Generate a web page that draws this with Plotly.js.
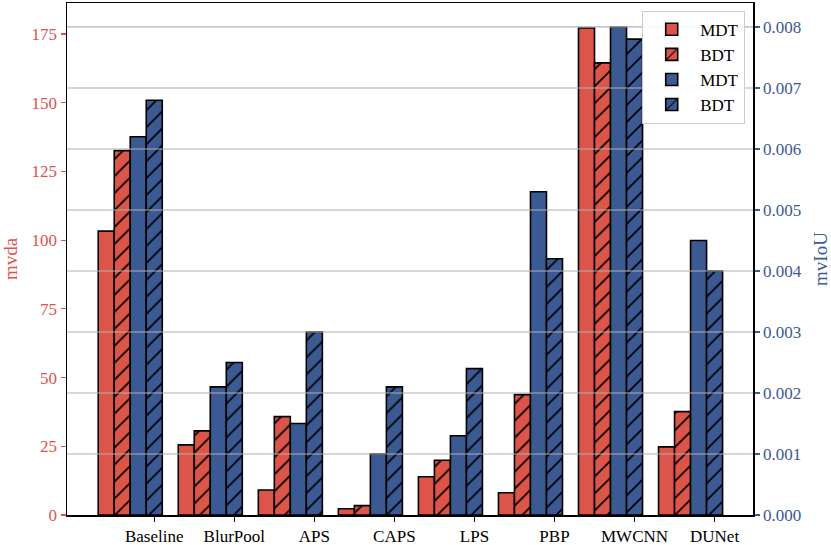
<!DOCTYPE html>
<html>
<head>
<meta charset="utf-8">
<script src="https://cdn.plot.ly/plotly-3.0.1.min.js"></script>
<style>html,body{margin:0;padding:0;background:#fff;}#chart{width:831px;height:545px;}</style>
</head>
<body>
<div id="chart"></div>
<script>
const categories = ["Baseline", "BlurPool", "APS", "CAPS", "LPS", "PBP", "MWCNN", "DUNet"];
const mvdaMDT = [103.3, 25.5, 9.1, 2.3, 13.9, 8.1, 177.2, 24.8];
const mvdaBDT = [132.6, 30.6, 35.8, 3.4, 19.9, 43.8, 164.5, 37.6];
const mvIoUMDT = [0.0062, 0.0021, 0.0015, 0.0010, 0.0013, 0.0053, 0.0080, 0.0045];
const mvIoUBDT = [0.0068, 0.0025, 0.0030, 0.0021, 0.0024, 0.0042, 0.0078, 0.0040];
const leftTicks = [0, 25, 50, 75, 100, 125, 150, 175];
const rightTicks = [0, 0.001, 0.002, 0.003, 0.004, 0.005, 0.006, 0.007, 0.008];

const RED = '#DD5449';
const BLUE = '#3B5A93';
const RED_TXT = '#E0524F';
const BLUE_TXT = '#3A5A98';
const FONT = 'Liberation Serif, Times New Roman, serif';

function barTrace(y, name, color, hatched, yaxis, offset) {
  const marker = { color: color, line: { color: '#000', width: 1.6 } };
  if (hatched) {
    marker.pattern = { shape: '/', fgcolor: '#000', bgcolor: color, fillmode: 'replace', size: 12, solidity: 0.14 };
  }
  return {
    type: 'bar', x: categories, y: y, name: name, yaxis: yaxis,
    width: 0.2, offset: offset, marker: marker
  };
}

const traces = [
  barTrace(mvdaMDT, 'MDT', RED, false, 'y', -0.7),
  barTrace(mvdaBDT, 'BDT', RED, true, 'y', -0.5),
  barTrace(mvIoUMDT, 'MDT', BLUE, false, 'y2', -0.3),
  barTrace(mvIoUBDT, 'BDT', BLUE, true, 'y2', -0.1)
];

const gridShapes = rightTicks.slice(1).map(v => ({
  type: 'line', xref: 'paper', x0: 0, x1: 1, yref: 'y2', y0: v, y1: v,
  line: { color: '#b0b0b0', width: 1.2 }, layer: 'above'
}));

const layout = {
  width: 831, height: 545,
  margin: { l: 67, r: 78, t: 3, b: 30 },
  paper_bgcolor: '#fff', plot_bgcolor: '#fff',
  font: { family: FONT, size: 17, color: '#000' },
  barmode: 'overlay',
  showlegend: true,
  legend: {
    x: 0.8385, y: 0.985, xanchor: 'left', yanchor: 'top',
    bgcolor: 'rgba(255,255,255,0.9)', bordercolor: '#cccccc', borderwidth: 1,
    font: { family: FONT, size: 17, color: '#000' },
    traceorder: 'normal', tracegroupgap: 0, itemwidth: 47
  },
  xaxis: {
    type: 'category', range: [-1.09, 7.48],
    showgrid: false, zeroline: false,
    showline: true, linecolor: '#000', linewidth: 1.5, mirror: true,
    ticks: 'outside', ticklen: 5, tickwidth: 1.2, tickcolor: '#000',
    tickfont: { family: FONT, size: 17, color: '#000' }
  },
  yaxis: {
    range: [0, 186.3], tickvals: leftTicks,
    showgrid: false, zeroline: false,
    showline: true, linecolor: '#000', linewidth: 1.5,
    ticks: 'outside', ticklen: 5, tickwidth: 1.2, tickcolor: RED_TXT,
    tickfont: { family: FONT, size: 17, color: RED_TXT },
    title: { text: 'mvda', font: { family: FONT, size: 19, color: RED_TXT }, standoff: 10 }
  },
  yaxis2: {
    overlaying: 'y', side: 'right', anchor: 'x',
    range: [0, 0.008393], tickvals: rightTicks, tickformat: '.3f',
    showgrid: false, zeroline: false,
    showline: true, linecolor: '#000', linewidth: 1.5,
    ticks: 'outside', ticklen: 5, tickwidth: 1.2, tickcolor: BLUE_TXT,
    tickfont: { family: FONT, size: 17, color: BLUE_TXT },
    title: { text: 'mvIoU', font: { family: FONT, size: 19, color: BLUE_TXT }, standoff: 13 }
  },
  shapes: gridShapes
};

Plotly.newPlot('chart', traces, layout, { displayModeBar: false, staticPlot: true });
</script>
</body>
</html>
